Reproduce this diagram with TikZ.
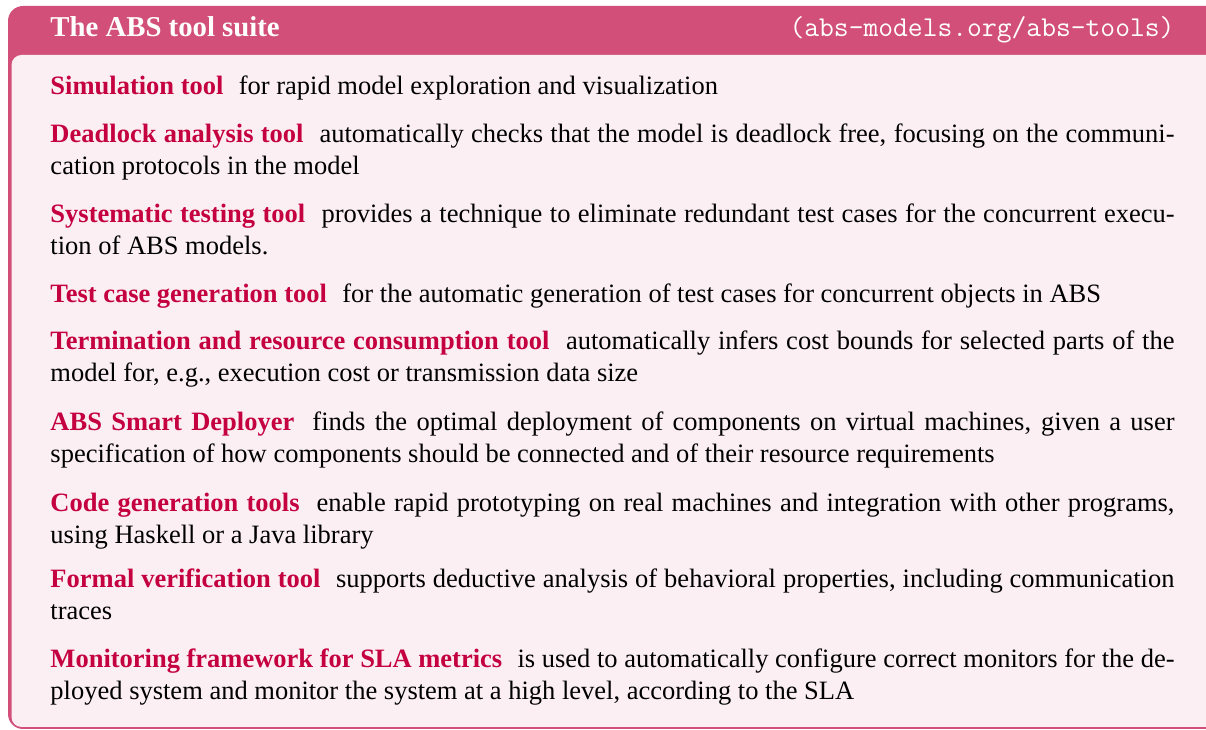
\documentclass[tikz,border=0pt]{standalone}
\usepackage{fontspec}
\setmainfont{Liberation Serif}
\usepackage{xcolor}
\usetikzlibrary{positioning}
\definecolor{absframe}{RGB}{209,79,121}
\definecolor{absbg}{RGB}{251,239,243}
\definecolor{abshead}{RGB}{196,0,64}
\newcommand{\tool}[1]{{\color{abshead}\bfseries #1}\hspace{0.33em}}

\begin{document}
\begin{tikzpicture}[x=0.4pt, y=-0.4pt,
    entry/.style={anchor=base west, inner sep=0pt, text width=449.6pt, align=justify,
      font=\fontsize{10.6}{12.8}\selectfont},
    heading/.style={inner sep=0pt, text=white, font=\fontsize{11.5}{14}\selectfont}]
    \useasboundingbox (0,0) rectangle (1206,730);
    \clip (0,0) rectangle (1206,730);

    % Frame and title bar
    \fill[absframe, rounded corners=6] (8,6) rectangle (1250,729);
    \fill[absbg, rounded corners=4] (11.5,55) rectangle (1250,727);

    % Title
    \node[heading, anchor=base west, font=\fontsize{11.5}{14}\selectfont\bfseries] (title) at (50,37) {The ABS tool suite};
    \node[heading, anchor=base east, font=\fontsize{11.5}{14}\selectfont\ttfamily] (url) at (1175,37) {(abs-models.org/abs-tools)};

    % Tools
    \node[entry] (sim) at (50,95) {\tool{Simulation tool} for rapid model exploration and visualization};
    \node[entry] (dead) at (50,143) {\tool{Deadlock analysis tool} automatically checks that the model is deadlock free, focusing on the communi-\linebreak cation protocols in the model};
    \node[entry] (systest) at (50,223) {\tool{Systematic testing tool} provides a technique to eliminate redundant test cases for the concurrent execu-\linebreak tion of ABS models.};
    \node[entry] (testgen) at (50,303) {\tool{Test case generation tool} for the automatic generation of test cases for concurrent objects in ABS};
    \node[entry] (term) at (50,350) {\tool{Termination and resource consumption tool} automatically infers cost bounds for selected parts of the\linebreak model for, e.g., execution cost or transmission data size};
    \node[entry] (deploy) at (50,431) {\tool{ABS Smart Deployer} finds the optimal deployment of components on virtual machines, given a user\linebreak specification of how components should be connected and of their resource requirements};
    \node[entry] (codegen) at (50,512) {\tool{Code generation tools} enable rapid prototyping on real machines and integration with other programs,\linebreak using Haskell or a Java library};
    \node[entry] (verif) at (50,588) {\tool{Formal verification tool} supports deductive analysis of behavioral properties, including communication\linebreak traces};
    \node[entry] (monitor) at (50,668) {\tool{Monitoring framework for SLA metrics} is used to automatically configure correct monitors for the de-\linebreak ployed system and monitor the system at a high level, according to the SLA};
\end{tikzpicture}
\end{document}
